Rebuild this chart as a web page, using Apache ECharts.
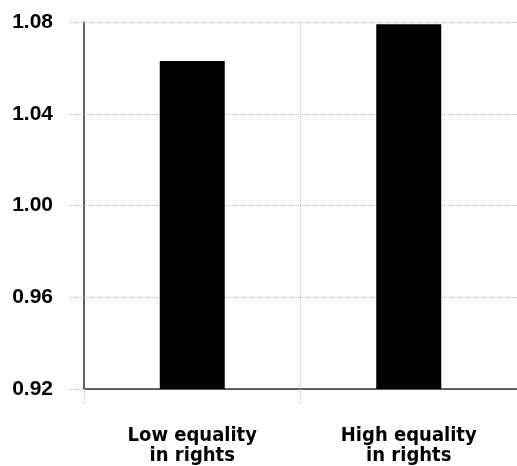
<!DOCTYPE html>
<html>
<head>
<meta charset="utf-8">
<script src="https://cdn.jsdelivr.net/npm/echarts@6/dist/echarts.min.js"></script>
<style>
  html, body { margin: 0; padding: 0; background: #fff; }
  #chart { width: 517px; height: 466px; }
</style>
</head>
<body>
<div id="chart"></div>
<script>
// categories and values
const categories = ['Low equality\nin rights', 'High equality\nin rights'];
const values = [1.063, 1.079];
const yMin = 0.92;
const yMax = 1.08;
const yStep = 0.04;

let chart = echarts.init(document.getElementById('chart'));
let option = {
  animation: false,
  grid: { left: 84, right: 0, top: 22, bottom: 77 },
  xAxis: {
    type: 'category',
    data: categories,
    axisLine: { lineStyle: { color: '#333', width: 1.5 } },
    axisTick: { show: true, length: 15, lineStyle: { color: '#bbb', type: 'dotted' } },
    splitLine: { show: true, lineStyle: { color: '#bbb', type: 'dotted' } },
    axisLabel: {
      margin: 37,
      color: '#000',
      fontFamily: '"DejaVu Sans Condensed", "DejaVu Sans"',
      fontWeight: 'bold',
      fontSize: 20,
      lineHeight: 20
    }
  },
  yAxis: {
    type: 'value',
    min: yMin,
    max: yMax,
    interval: yStep,
    axisLine: { show: true, lineStyle: { color: '#333', width: 1.5 } },
    axisTick: { show: true, length: 16, lineStyle: { color: '#bbb', type: 'dotted' } },
    splitLine: { show: true, lineStyle: { color: '#bbb', type: 'dotted' } },
    axisLabel: {
      margin: 31,
      color: '#000',
      fontFamily: 'Liberation Sans',
      fontWeight: 'bold',
      fontSize: 21,
      formatter: v => v.toFixed(2)
    }
  },
  series: [{
    type: 'bar',
    data: values,
    barWidth: 65,
    itemStyle: { color: '#000' }
  }]
};
chart.setOption(option);
</script>
</body>
</html>
